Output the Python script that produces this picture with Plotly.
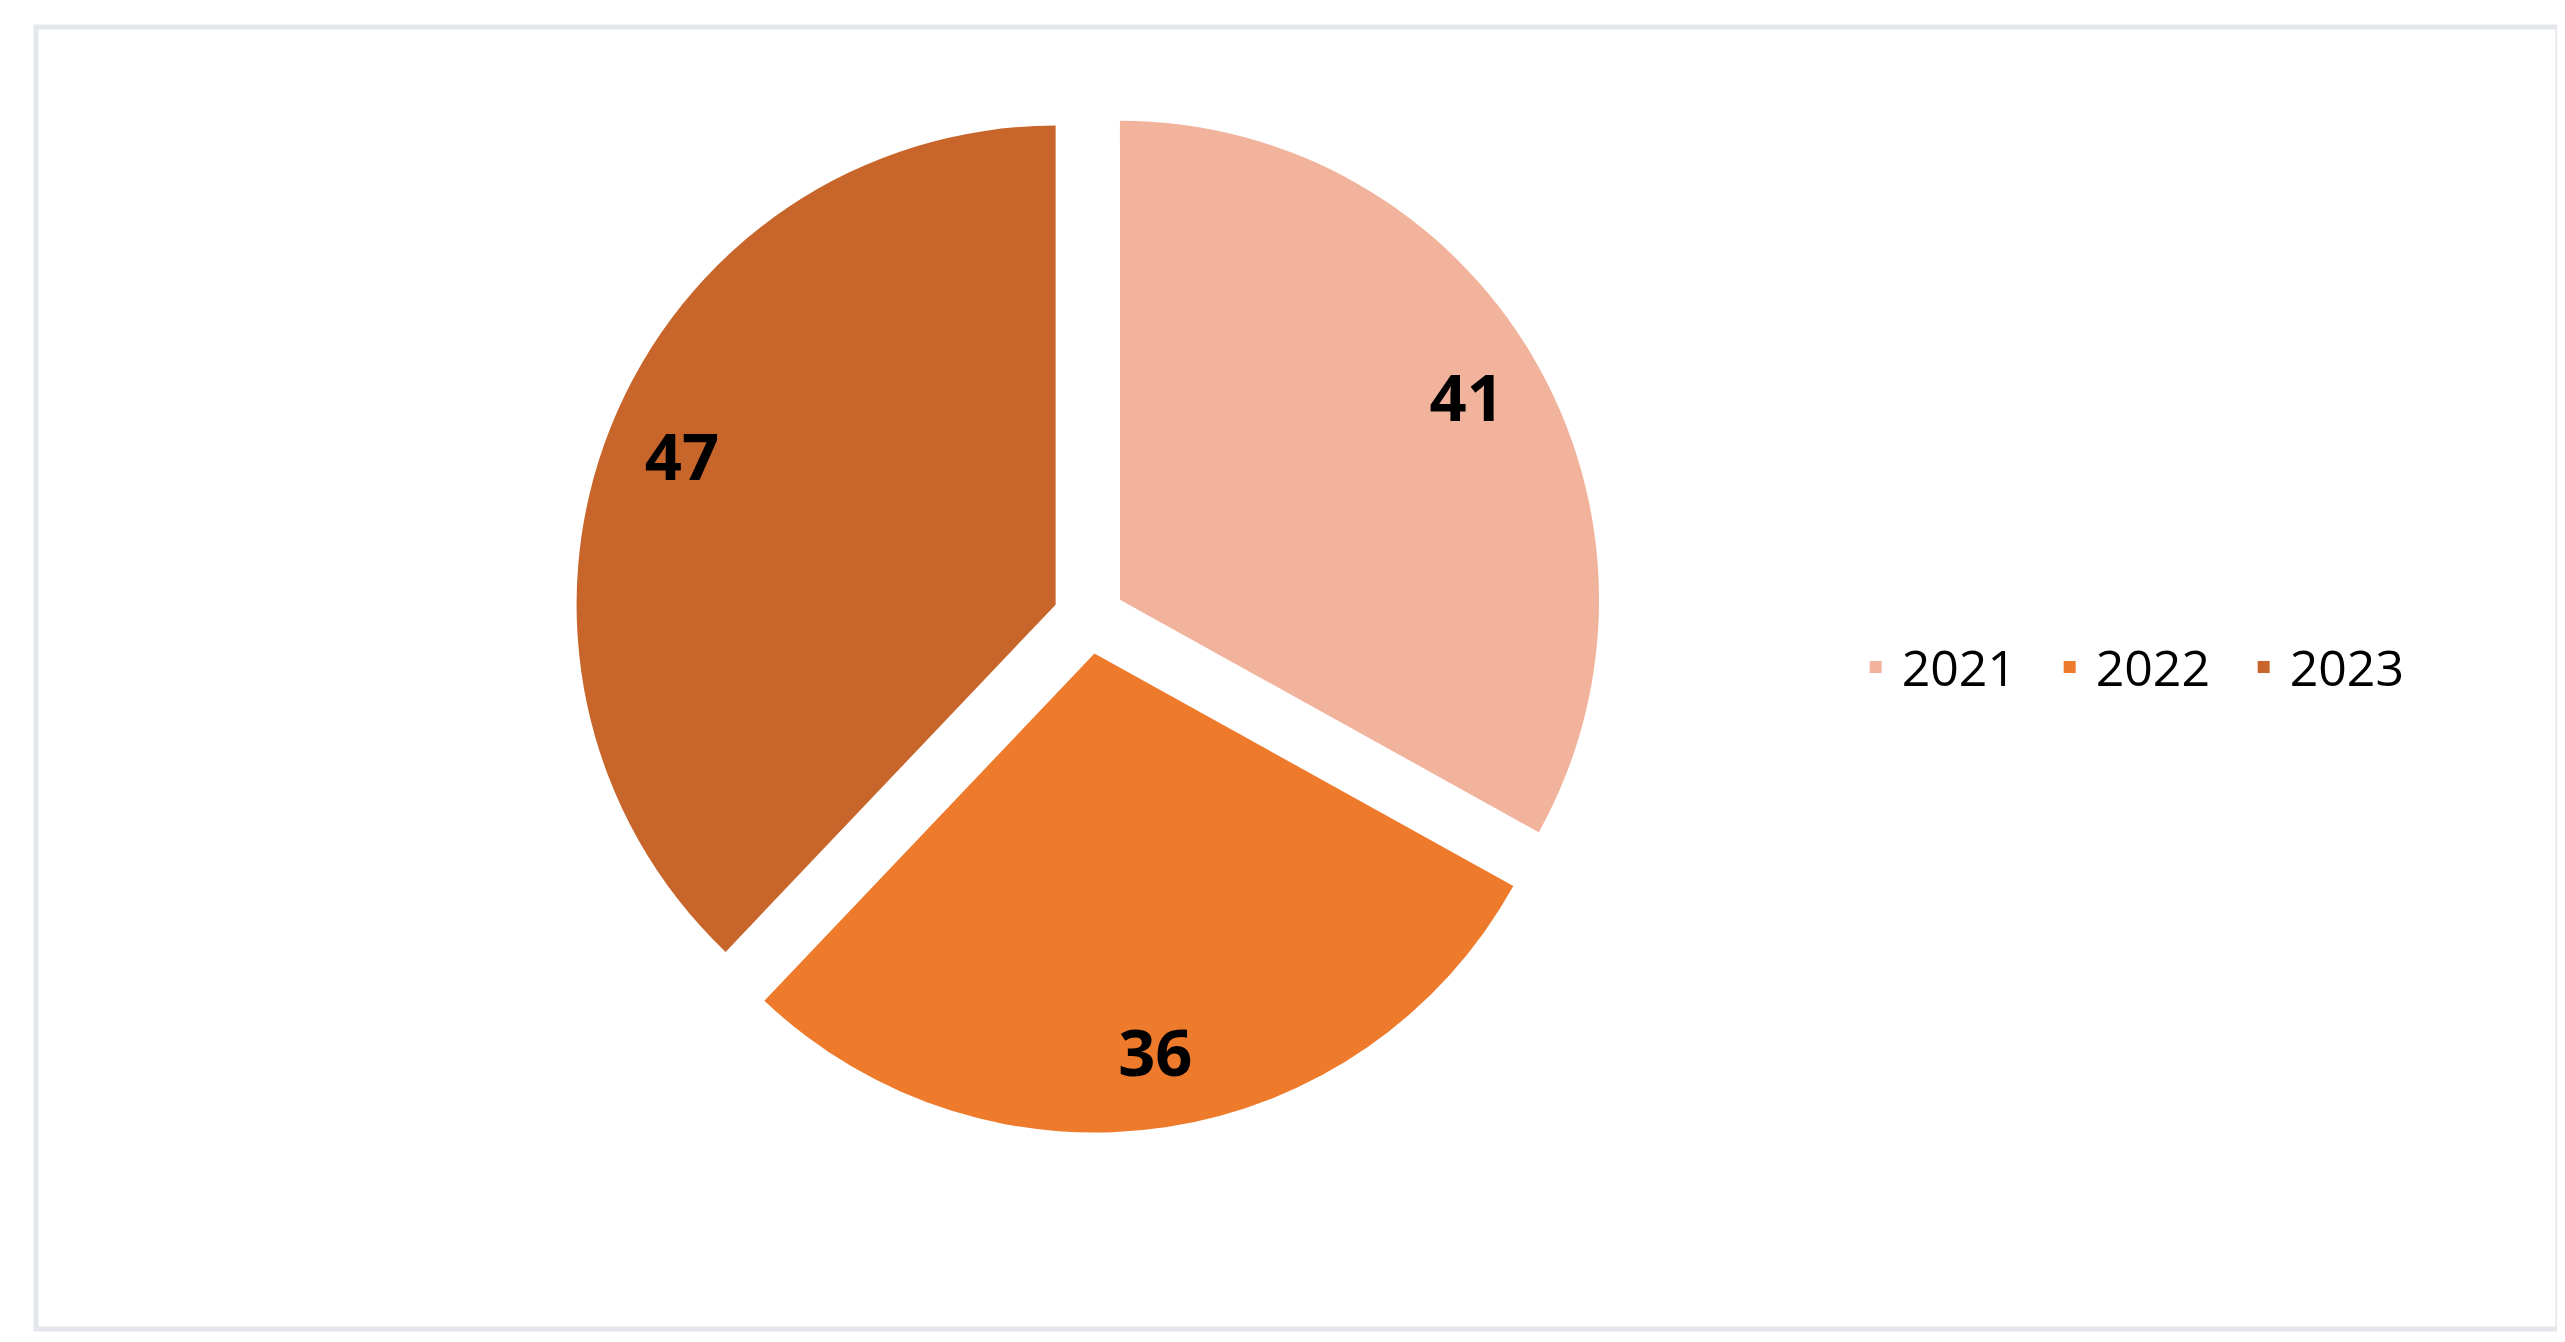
import plotly.graph_objects as go

# data
years = ["2021", "2022", "2023"]
counts = [41, 36, 47]
slice_colors = ["#F1B39B", "#EE7A2C", "#C8652B"]

W, H = 2565, 1342
pie_domain = dict(x=[566 / W, 1596 / W], y=[1 - 1125 / H, 1 - 95 / H])
pulls = [0.075, 0.075, 0.075]

fig = go.Figure()

# the filled slices
fig.add_trace(go.Pie(
    labels=years,
    values=counts,
    sort=False,
    direction="clockwise",
    rotation=0,
    pull=pulls,
    marker=dict(colors=slice_colors, line=dict(width=0)),
    textinfo="none",
    domain=pie_domain,
    hoverinfo="label+value",
))

# same pie as a transparent ring, only to put the value labels further out
fig.add_trace(go.Pie(
    labels=years,
    values=counts,
    sort=False,
    direction="clockwise",
    rotation=0,
    pull=pulls,
    hole=0.68,
    marker=dict(colors=["rgba(0,0,0,0)"] * 3, line=dict(width=0)),
    texttemplate="%{value}",
    textposition="inside",
    insidetextorientation="horizontal",
    textfont=dict(family="Open Sans", size=65, color="#000000", weight="bold"),
    domain=pie_domain,
    showlegend=False,
    hoverinfo="skip",
))

fig.update_layout(
    width=W, height=H,
    margin=dict(l=0, r=0, t=0, b=0),
    paper_bgcolor="white",
    plot_bgcolor="white",
    showlegend=True,
    legend=dict(
        orientation="h",
        x=0.718, xanchor="left",
        y=0.509, yanchor="middle",
        font=dict(family="Open Sans", size=50, color="#000000"),
        itemwidth=42,
        entrywidth=137,
        traceorder="normal",
    ),
    shapes=[dict(
        type="rect", xref="paper", yref="paper",
        x0=28 / W, x1=2550 / W, y0=1 - 1321 / H, y1=1 - 19 / H,
        line=dict(color="#E3E6EA", width=5),
        fillcolor="rgba(0,0,0,0)",
    )],
)

fig.write_html("out.html")
